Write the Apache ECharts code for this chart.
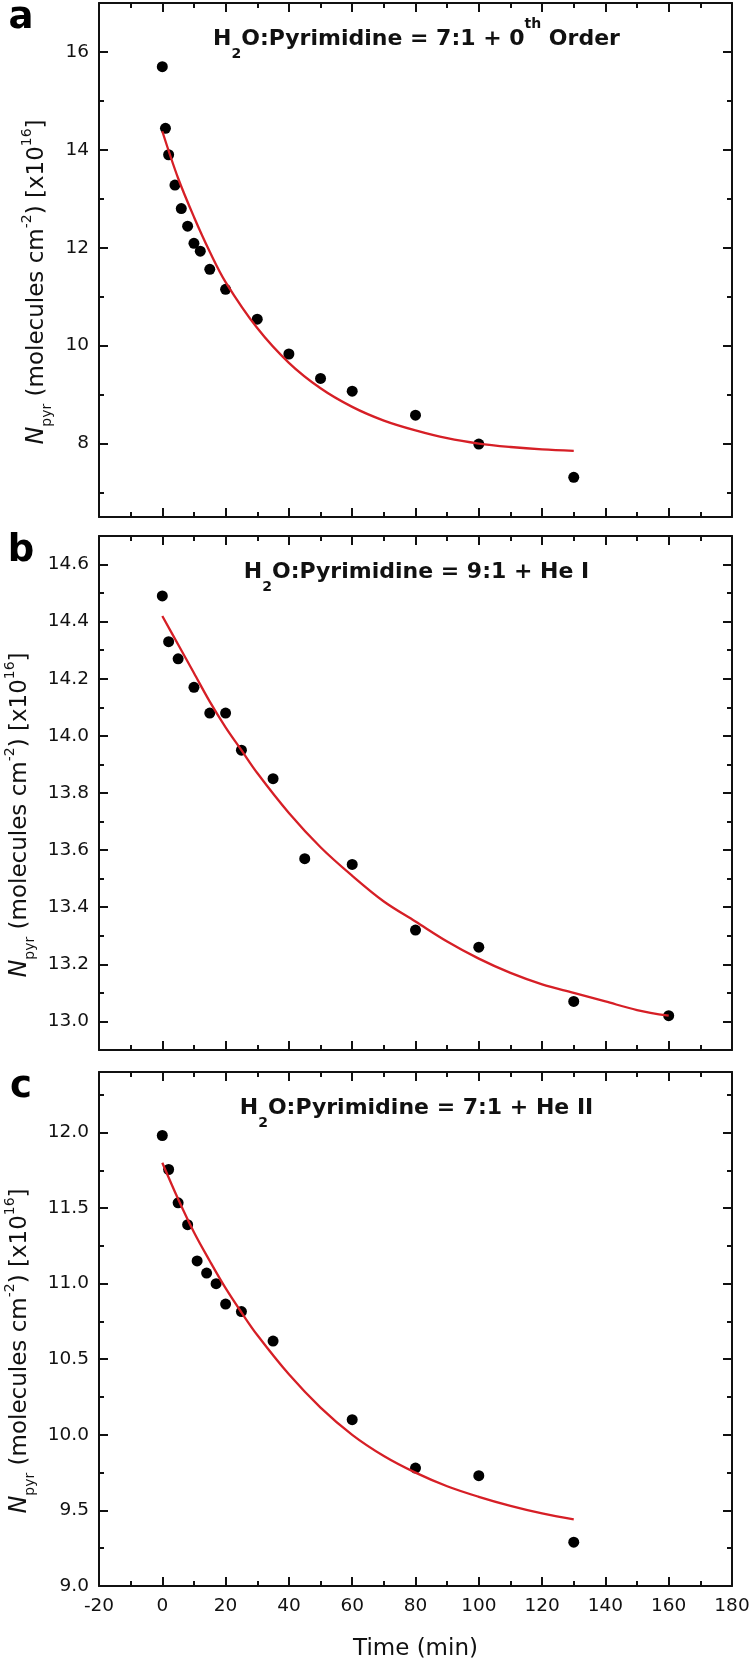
<!DOCTYPE html>
<html>
<head>
<meta charset="utf-8">
<script src="https://cdn.jsdelivr.net/npm/echarts@6/dist/echarts.min.js"></script>
<style>
html,body{margin:0;padding:0;background:#fff;}
#chart{width:750px;height:1660px;}
</style>
</head>
<body>
<div id="chart"></div>
<script>
// ---------- data ----------
const xMin = -20, xMax = 180, xStep = 20;

// Panel a: H2O:Pyrimidine = 7:1 + 0th Order
const timeA = [0, 1, 2, 4, 6, 8, 10, 12, 15, 20, 30, 40, 50, 60, 80, 100, 130];
const npyrA = [15.70, 14.44, 13.90, 13.28, 12.80, 12.44, 12.09, 11.93, 11.56, 11.15, 10.54, 9.83, 9.33, 9.07, 8.58, 7.99, 7.31];
const fitTimeA = [0, 5, 10, 15, 20, 30, 40, 50, 60, 70, 80, 90, 100, 110, 120, 130];
const fitA = [14.38, 13.42, 12.63, 11.92, 11.30, 10.36, 9.65, 9.13, 8.75, 8.47, 8.27, 8.11, 8.00, 7.93, 7.88, 7.85];
const yRangeA = [6.5, 17];
const yMajorA = [8, 10, 12, 14, 16];
const yMinorA = [7, 9, 11, 13, 15, 17];

// Panel b: H2O:Pyrimidine = 9:1 + He I
const timeB = [0, 2, 5, 10, 15, 20, 25, 35, 45, 60, 80, 100, 130, 160];
const npyrB = [14.49, 14.33, 14.27, 14.17, 14.08, 14.08, 13.95, 13.85, 13.57, 13.55, 13.32, 13.26, 13.07, 13.02];
const fitTimeB = [0, 5, 10, 15, 20, 25, 30, 40, 50, 60, 70, 80, 90, 100, 110, 120, 130, 140, 150, 160];
const fitB = [14.42, 14.32, 14.22, 14.12, 14.03, 13.95, 13.87, 13.73, 13.61, 13.51, 13.42, 13.35, 13.28, 13.22, 13.17, 13.13, 13.10, 13.07, 13.04, 13.02];
const yRangeB = [12.9, 14.7];
const yMajorB = [13.0, 13.2, 13.4, 13.6, 13.8, 14.0, 14.2, 14.4, 14.6];
const yMinorB = [12.9, 13.1, 13.3, 13.5, 13.7, 13.9, 14.1, 14.3, 14.5, 14.7];

// Panel c: H2O:Pyrimidine = 7:1 + He II
const timeC = [0, 2, 5, 8, 11, 14, 17, 20, 25, 35, 60, 80, 100, 130];
const npyrC = [11.98, 11.755, 11.535, 11.39, 11.15, 11.07, 11.00, 10.865, 10.815, 10.62, 10.10, 9.78, 9.73, 9.29];
const fitTimeC = [0, 5, 10, 15, 20, 25, 30, 40, 50, 60, 70, 80, 90, 100, 110, 120, 130];
const fitC = [11.80, 11.56, 11.34, 11.15, 10.97, 10.81, 10.66, 10.40, 10.18, 10.00, 9.86, 9.75, 9.66, 9.59, 9.53, 9.48, 9.44];
const yRangeC = [9.0, 12.4];
const yMajorC = [9.0, 9.5, 10.0, 10.5, 11.0, 11.5, 12.0];
const yMinorC = [9.25, 9.75, 10.25, 10.75, 11.25, 11.75, 12.25];

const panelLetters = ['a', 'b', 'c'];
const panelTitles = [
  ['H', '2', 'O:Pyrimidine = 7:1 + 0', 'th', ' Order'],
  ['H', '2', 'O:Pyrimidine = 9:1 + He I', '', ''],
  ['H', '2', 'O:Pyrimidine = 7:1 + He II', '', '']
];
const yDecimals = [0, 1, 1];
const xAxisName = 'Time (min)';

// ---------- layout / style ----------
const F = "'DejaVu Sans', 'Liberation Sans', Arial, sans-serif";
const AX = '#111';
const RED = '#d61f26';
const gridLeft = 99, gridWidth = 633, gridHeight = 514;
const gridTops = [3, 536, 1072];

const panels = [
  {t: timeA, v: npyrA, ft: fitTimeA, fv: fitA, yr: yRangeA, maj: yMajorA, min: yMinorA},
  {t: timeB, v: npyrB, ft: fitTimeB, fv: fitB, yr: yRangeB, maj: yMajorB, min: yMinorB},
  {t: timeC, v: npyrC, ft: fitTimeC, fv: fitC, yr: yRangeC, maj: yMajorC, min: yMinorC}
];

const grids = [], xAxes = [], yAxes = [], series = [], graphics = [];

const yNameRich = {
  i: {fontFamily: F, fontSize: 24, fontStyle: 'italic', color: '#111', lineHeight: 34},
  n: {fontFamily: F, fontSize: 23, color: '#111', lineHeight: 34},
  sub: {fontFamily: F, fontSize: 14, color: '#111', lineHeight: 13, verticalAlign: 'bottom'},
  sup: {fontFamily: F, fontSize: 14, color: '#111', lineHeight: 22, verticalAlign: 'top'}
};
const yNameText = '{i|N}{sub|pyr}{n| (molecules cm}{sup|-2}{n|) [x10}{sup|16}{n|]}';

const titleRich = {
  b: {fontFamily: F, fontSize: 22, fontWeight: 'bold', fill: '#111', lineHeight: 44},
  sub: {fontFamily: F, fontSize: 14, fontWeight: 'bold', fill: '#111', lineHeight: 12, verticalAlign: 'bottom'},
  sup: {fontFamily: F, fontSize: 14, fontWeight: 'bold', fill: '#111', lineHeight: 26, verticalAlign: 'top'}
};

const tickStyle = {color: AX, width: 2};
const noZero = {show: false, onZeroAxisIndex: 999};

panels.forEach((p, g) => {
  grids.push({left: gridLeft, top: gridTops[g], width: gridWidth, height: gridHeight,
    containLabel: false, outerBoundsMode: 'none'});
  const isLast = g === panels.length - 1;

  // ---- x axes: frame (bottom/top) + tick-only (bottom/top)
  const xCommon = {gridIndex: g, type: 'value', min: xMin, max: xMax, interval: xStep, splitLine: {show: false}};
  xAxes.push(Object.assign({}, xCommon, {
    position: 'bottom',
    axisLine: {show: true, onZero: false, lineStyle: {color: AX, width: 2}},
    axisTick: {show: false},
    axisLabel: {show: isLast, color: '#111', fontFamily: F, fontSize: 18.5, margin: 11},
    name: isLast ? xAxisName : '',
    nameLocation: 'middle', nameGap: 52,
    nameTextStyle: {color: '#111', fontFamily: F, fontSize: 23}
  }));
  xAxes.push(Object.assign({}, xCommon, {
    position: 'top',
    axisLine: {show: true, onZero: false, lineStyle: {color: AX, width: 2}},
    axisTick: {show: false}, axisLabel: {show: false}
  }));
  ['bottom', 'top'].forEach(pos => {
    xAxes.push(Object.assign({}, xCommon, {
      position: pos,
      axisLine: noZero,
      axisTick: {show: true, inside: true, length: 9, lineStyle: tickStyle},
      minorTick: {show: true, splitNumber: 2, length: 5, lineStyle: tickStyle},
      axisLabel: {show: false}
    }));
  });

  // ---- y axes: frame left (labels + name), frame right, major ticks L/R, minor ticks L/R
  const dec = yDecimals[g];
  const yCommon = {gridIndex: g, type: 'value', min: p.yr[0], max: p.yr[1], splitLine: {show: false}};
  yAxes.push(Object.assign({}, yCommon, {
    position: 'left',
    axisLine: {show: true, onZero: false, lineStyle: {color: AX, width: 2}},
    axisTick: {show: false},
    axisLabel: {show: true, customValues: p.maj, color: '#111', fontFamily: F, fontSize: 18.5, margin: 10,
      formatter: v => Number(v).toFixed(dec)},
    name: yNameText, nameLocation: 'middle', nameGap: 45,
    nameTextStyle: {rich: yNameRich, padding: [0, 44, 0, 0]}
  }));
  yAxes.push(Object.assign({}, yCommon, {
    position: 'right',
    axisLine: {show: true, onZero: false, lineStyle: {color: AX, width: 2}},
    axisTick: {show: false}, axisLabel: {show: false}
  }));
  [['left', p.maj, 9], ['right', p.maj, 9], ['left', p.min, 5], ['right', p.min, 5]].forEach(([pos, vals, len]) => {
    yAxes.push(Object.assign({}, yCommon, {
      position: pos,
      axisLine: noZero,
      axisTick: {show: true, inside: true, length: len, customValues: vals, lineStyle: tickStyle},
      axisLabel: {show: false}
    }));
  });

  series.push({
    type: 'scatter', xAxisIndex: 4 * g, yAxisIndex: 6 * g,
    data: p.t.map((t, i) => [t, p.v[i]]),
    symbol: 'circle', symbolSize: 11,
    itemStyle: {color: '#000', opacity: 1}, z: 2, silent: true
  });
  series.push({
    type: 'line', xAxisIndex: 4 * g, yAxisIndex: 6 * g,
    data: p.ft.map((t, i) => [t, p.fv[i]]),
    showSymbol: false, smooth: 0.35,
    lineStyle: {color: RED, width: 2.3}, z: 3, silent: true
  });

  const tt = panelTitles[g];
  let txt = '{b|' + tt[0] + '}{sub|' + tt[1] + '}{b|' + tt[2] + '}';
  if (tt[3]) txt += '{sup|' + tt[3] + '}';
  if (tt[4]) txt += '{b|' + tt[4] + '}';
  graphics.push({
    type: 'text', x: gridLeft + gridWidth / 2 + 1, y: gridTops[g] + 14,
    style: {text: txt, rich: titleRich, align: 'center', verticalAlign: 'top', fill: '#111'}
  });
  graphics.push({
    type: 'text', x: 21, y: gridTops[g] - 5,
    style: {text: panelLetters[g], align: 'center', verticalAlign: 'top', fill: '#000',
      fontFamily: F, fontSize: 37, fontWeight: 'bold', lineHeight: 40}
  });
});

const chart = echarts.init(document.getElementById('chart'), null, {renderer: 'canvas'});
chart.setOption({
  animation: false,
  backgroundColor: '#fff',
  grid: grids,
  xAxis: xAxes,
  yAxis: yAxes,
  series: series,
  graphic: {elements: graphics}
});
</script>
</body>
</html>
